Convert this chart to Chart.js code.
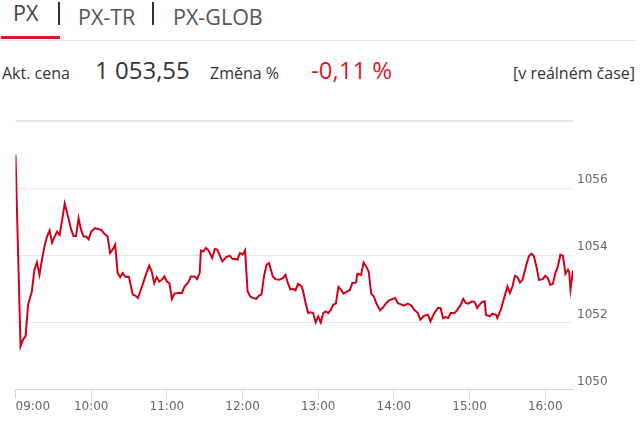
<!DOCTYPE html>
<html>
<head>
<meta charset="utf-8">
<script src="https://cdn.jsdelivr.net/npm/chart.js@4.4.1/dist/chart.umd.min.js"></script>
<style>
    body { margin: 0; width: 640px; height: 422px; background: #fff; overflow: hidden; font-family: "Open Sans", sans-serif; color: #333; }
    .t { position: absolute; line-height: 1; white-space: nowrap; }
    .sep { position: absolute; width: 2px; background: #333; top: 2px; height: 23px; }
    #wrap { position: absolute; left: 0; top: 110px; width: 640px; height: 312px; }
</style>
</head>
<body>
<span class="t" style="left:13px; top:2px; font-size:21.5px; color:#444;">PX</span>
<div class="sep" style="left:58px;"></div>
<span class="t" style="left:78px; top:6px; font-size:21.5px; color:#555;">PX-TR</span>
<div class="sep" style="left:152px;"></div>
<span class="t" style="left:173px; top:6px; font-size:21.5px; color:#555;">PX-GLOB</span>
<div style="position:absolute; left:0; top:40px; width:636px; height:1px; background:#e2e2e2;"></div>
<div style="position:absolute; left:1px; top:36px; width:59px; height:3px; background:#d7182a;"></div>

<span class="t" style="left:2px; top:65px; font-size:16px;">Akt. cena</span>
<span class="t" style="left:95px; top:58px; font-size:24px;">1 053,55</span>
<span class="t" style="left:210px; top:65px; font-size:16px;">Změna %</span>
<span class="t" style="left:311px; top:58px; font-size:24px; color:#d7182a;">-0,11 %</span>
<span class="t" style="right:5px; top:65px; font-size:16px;">[v reálném čase]</span>

<div id="wrap"><canvas id="pxChart"></canvas></div>

<script>
// minutes after 09:00
const times = [0, 4, 6, 8, 10, 13, 15, 17, 19, 21, 23, 25, 27, 29, 31, 33, 35, 37, 39, 42,
    44, 46, 48, 50, 52, 54, 56, 58, 60, 63, 66, 68, 70, 73, 75, 77, 79, 81, 83, 85,
    87, 90, 91, 93, 95, 97, 99, 102, 104, 106, 108, 110, 112, 114, 116, 118, 120, 122, 124, 126,
    129, 132, 134, 137, 139, 142, 144, 146, 147, 149, 151, 153, 156, 158, 160, 162, 164, 167, 170, 172,
    174, 176, 178, 180, 182, 184, 186, 188, 191, 193, 195, 197, 199, 201, 204, 206, 209, 212, 214, 216,
    218, 220, 222, 224, 227, 228, 230, 232, 234, 236, 238, 240, 242, 244, 246, 248, 250, 252, 254, 256,
    258, 260, 262, 265, 267, 270, 271, 274, 276, 278, 280, 282, 284, 286, 289, 291, 294, 296, 299, 301,
    303, 306, 308, 311, 314, 316, 319, 321, 324, 327, 329, 332, 335, 337, 339, 341, 343, 345, 348, 350,
    353, 355, 357, 359, 362, 364, 366, 368, 370, 372, 373, 376, 378, 381, 382, 385, 387, 390, 392, 394,
    396, 398, 400, 402, 405, 407, 409, 411, 413, 415, 418, 420, 422, 424, 426, 428, 430, 432, 434, 436,
    438, 439, 440, 442];
const values = [1057.0, 1051.29, 1051.49, 1051.59, 1052.53, 1052.93, 1053.57, 1053.79, 1053.42, 1053.87,
    1054.27, 1054.56, 1054.74, 1054.38, 1054.56, 1054.71, 1054.61, 1055.06, 1055.55, 1055.11,
    1054.78, 1054.58, 1054.58, 1055.11, 1054.76, 1054.56, 1054.56, 1054.48, 1054.71, 1054.81,
    1054.78, 1054.76, 1054.66, 1054.56, 1054.07, 1054.17, 1054.32, 1053.47, 1053.35, 1053.47,
    1053.37, 1053.35, 1053.17, 1052.83, 1052.80, 1052.73, 1052.93, 1053.27, 1053.49, 1053.69,
    1053.52, 1053.17, 1053.35, 1053.22, 1053.27, 1053.37, 1053.22, 1053.17, 1052.70, 1052.86,
    1052.88, 1052.88, 1053.07, 1053.19, 1053.37, 1053.37, 1053.29, 1053.47, 1054.14, 1054.12,
    1054.22, 1054.15, 1053.92, 1054.19, 1054.17, 1053.99, 1053.82, 1053.95, 1053.99, 1053.89,
    1053.90, 1053.87, 1054.07, 1054.02, 1054.15, 1052.93, 1052.78, 1052.73, 1052.70, 1052.80,
    1052.83, 1053.37, 1053.72, 1053.77, 1053.37, 1053.29, 1053.27, 1053.32, 1053.42, 1053.17,
    1052.98, 1053.00, 1052.96, 1053.15, 1053.07, 1052.93, 1052.58, 1052.28, 1052.30, 1052.28,
    1052.00, 1052.18, 1052.00, 1052.28, 1052.33, 1052.28, 1052.38, 1052.53, 1052.56, 1053.06,
    1052.98, 1052.86, 1052.90, 1052.96, 1053.17, 1053.19, 1053.45, 1053.42, 1053.79, 1053.67,
    1053.52, 1052.86, 1052.78, 1052.58, 1052.36, 1052.43, 1052.58, 1052.66, 1052.70, 1052.73,
    1052.58, 1052.53, 1052.50, 1052.56, 1052.50, 1052.38, 1052.28, 1052.08, 1052.20, 1052.23,
    1052.03, 1052.28, 1052.43, 1052.43, 1052.13, 1052.16, 1052.13, 1052.28, 1052.28, 1052.36,
    1052.53, 1052.70, 1052.58, 1052.56, 1052.63, 1052.61, 1052.43, 1052.53, 1052.61, 1052.63,
    1052.23, 1052.18, 1052.26, 1052.23, 1052.13, 1052.40, 1052.68, 1053.07, 1052.88, 1053.07,
    1053.39, 1053.35, 1053.19, 1053.27, 1053.72, 1053.97, 1054.05, 1053.97, 1053.67, 1053.27,
    1053.29, 1053.39, 1053.32, 1053.12, 1053.15, 1053.47, 1053.67, 1054.02, 1053.99, 1053.45,
    1053.57, 1053.50, 1052.98, 1053.55];
const hourTicks = [0, 60, 120, 180, 240, 300, 360, 420];
const hourLabels = ["09:00", "10:00", "11:00", "12:00", "13:00", "14:00", "15:00", "16:00"];
const endMinute = 442;
const yTicks = [1050, 1052, 1054, 1056, 1058];

var points = times.map(function(t, i) { return { x: t, y: values[i] }; });

const axisColor = '#ccd6eb';
const labelFont = { family: 'DejaVu Sans', size: 12 };

new Chart(document.getElementById('pxChart'), {
    type: 'line',
    data: {
        datasets: [{
            data: points,
            borderColor: '#d0021b',
            borderWidth: 2,
            pointRadius: 0,
            tension: 0,
            fill: false
        }]
    },
    options: {
        responsive: true,
        maintainAspectRatio: false,
        animation: false,
        layout: { padding: { left: 15.5, top: 10.5, right: 0, bottom: 0 } },
        plugins: { legend: { display: false }, tooltip: { enabled: false } },
        scales: {
            x: {
                type: 'linear',
                min: 0,
                max: endMinute,
                afterBuildTicks: function(s) {
                    s.ticks = hourTicks.concat([endMinute]).map(function(v) { return { value: v }; });
                },
                afterFit: function(s) { s.height = 32.5; },
                grid: {
                    drawOnChartArea: false,
                    drawTicks: true,
                    tickLength: 9,
                    tickColor: function(ctx) { return ctx.tick && ctx.tick.value === endMinute ? 'rgba(0,0,0,0)' : axisColor; }
                },
                border: { color: axisColor, width: 1 },
                ticks: {
                    autoSkip: false,
                    maxRotation: 0,
                    align: 'inner',
                    padding: 1,
                    color: '#666',
                    font: labelFont,
                    callback: function(v) {
                        var i = hourTicks.indexOf(v);
                        return i >= 0 ? hourLabels[i] : '';
                    }
                }
            },
            y: {
                position: 'right',
                min: 1050,
                max: 1058,
                afterBuildTicks: function(s) {
                    s.ticks = yTicks.map(function(v) { return { value: v }; });
                },
                afterFit: function(s) { s.width = 67; },
                grid: {
                    drawTicks: false,
                    color: function(ctx) { return ctx.tick && ctx.tick.value === 1050 ? 'rgba(0,0,0,0)' : '#e6e6e6'; },
                    lineWidth: function(ctx) { return ctx.tick && ctx.tick.value === 1058 ? 2 : 1; }
                },
                border: { display: false },
                ticks: {
                    padding: 4,
                    labelOffset: -8,
                    color: '#666',
                    font: labelFont,
                    callback: function(v) { return v === 1058 ? '' : v; }
                }
            }
        }
    }
});
</script>
</body>
</html>
